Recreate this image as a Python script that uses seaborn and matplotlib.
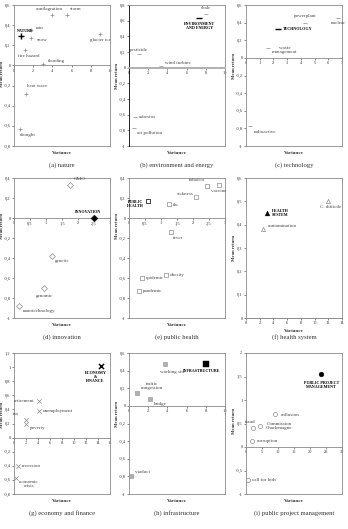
import matplotlib
matplotlib.use('Agg')
import matplotlib.pyplot as plt
import seaborn as sns
import pandas as pd
from matplotlib.ticker import MultipleLocator, FuncFormatter

sns.set_style('white')
plt.rcParams['font.family'] = ['Liberation Serif', 'DejaVu Serif']

# ---- data (first entry = the category itself) ----
nature_terms = ['NATURE', 'conflagration', 'storm', 'glacier ice', 'rain', 'snow',
                'fire hazard', 'flooding', 'heat wave', 'drought']
nature_var = [0.7, 4.0, 5.5, 9.0, 1.8, 1.8, 1.1, 3.0, 1.2, 0.6]
nature_ret = [0.29, 0.5, 0.5, 0.31, 0.35, 0.27, 0.15, 0.01, -0.28, -0.63]

env_terms = ['ENVIRONMENT\nAND ENERGY', 'shale', 'pesticide', 'wind turbine', 'asbestos', 'air pollution']
env_var = [7.3, 8.0, 1.0, 3.3, 0.6, 0.5]
env_ret = [0.63, 0.68, 0.17, 0.02, -0.63, -0.77]

tech_terms = ['TECHNOLOGY', 'powerplant', 'nuclear', 'waste\nmanagement', 'radioactive']
tech_var = [2.3, 4.3, 6.7, 1.6, 0.3]
tech_ret = [0.33, 0.4, 0.45, 0.11, -0.77]

innov_terms = ['INNOVATION', 'GMO', 'genetic', 'genomic', 'nanotechnology']
innov_var = [2.5, 1.75, 1.2, 0.95, 0.15]
innov_ret = [0.0, 0.33, -0.38, -0.7, -0.88]

ph_terms = ['PUBLIC\nHEALTH', 'flu', 'tobacco', 'sickness', 'vaccine', 'fever',
            'epidemic', 'obesity', 'pandemic']
ph_var = [0.6, 1.25, 2.45, 2.1, 2.8, 1.3, 0.4, 1.15, 0.3]
ph_ret = [0.17, 0.14, 0.32, 0.21, 0.33, -0.14, -0.6, -0.57, -0.73]

hs_terms = ['HEALTH\nSYSTEM', 'C. difficile', 'contamination']
hs_var = [3.0, 12.0, 2.5]
hs_ret = [0.45, 0.5, 0.38]

eco_terms = ['ECONOMY\n&\nFINANCE', 'retirement', 'unemployment', 'tax', 'poverty',
             'recession', 'economic\ncrisis']
eco_var = [14.5, 4.2, 4.2, 2.0, 2.0, 0.7, 0.4]
eco_ret = [1.02, 0.52, 0.38, 0.25, 0.2, -0.4, -0.58]

infra_terms = ['INFRASTRUCTURE', 'working site', 'traffic\ncongestion', 'bridge', 'viaduct']
infra_var = [8.0, 3.7, 0.8, 2.2, 0.2]
infra_ret = [0.48, 0.47, 0.15, 0.08, -0.8]

ppm_terms = ['PUBLIC PROJECT\nMANAGEMENT', 'collusion', 'fraud', 'Commission\nCharlemagne',
             'corruption', 'call for bids']
ppm_var = [23.5, 9.0, 2.2, 4.5, 2.0, 0.5]
ppm_ret = [1.55, 0.7, 0.4, 0.44, 0.13, -0.7]

captions = ['(a) nature', '(b) environment and energy', '(c) technology',
            '(d) innovation', '(e) public health', '(f) health system',
            '(g) economy and finance', '(h) infrastructure', '(i) public project management']

# label offsets (points) and alignment, per panel
lab_a = [(-3, 2, 'left', 'bottom'), (-2, 3, 'center', 'bottom'), (2, 3, 'left', 'bottom'),
         (0, -3, 'center', 'top'), (3, 0, 'left', 'bottom'), (4, -1, 'left', 'center'),
         (3, -3, 'center', 'top'), (4, 1, 'left', 'bottom'), (1, 4, 'left', 'bottom'),
         (0, -3, 'left', 'top')]
lab_b = [(0, -3, 'center', 'top'), (0, 3, 'center', 'bottom'), (-6, 2, 'left', 'bottom'),
         (3, 1, 'left', 'bottom'), (3, 0, 'left', 'center'), (2, -2, 'left', 'top')]
lab_c = [(4, 0, 'left', 'center'), (0, 3, 'center', 'bottom'), (0, -2, 'center', 'top'),
         (12, -1, 'center', 'center'), (3, -3, 'left', 'top')]
lab_d = [(-4, 3, 'center', 'bottom'), (3, 3, 'left', 'bottom'), (2, -2, 'left', 'top'),
         (0, -4, 'center', 'top'), (3, -2, 'left', 'top')]
lab_e = [(-3, -2, 'right', 'center'), (3, -1, 'left', 'center'), (-2, 3, 'right', 'bottom'),
         (-2, 1, 'right', 'bottom'), (0, -3, 'center', 'top'), (2, -3, 'left', 'top'),
         (3, 0, 'left', 'center'), (3, 0, 'left', 'center'), (3, 0, 'left', 'center')]
lab_f = [(4, 0, 'left', 'center'), (2, -3, 'center', 'top'), (3, 1, 'left', 'bottom')]
lab_g = [(-4, -4, 'center', 'top'), (-3, 0, 'right', 'center'), (3, 0, 'left', 'center'),
         (-5, 3, 'right', 'bottom'), (3, -2, 'left', 'top'), (3, 0, 'left', 'center'),
         (2, -1, 'left', 'top')]
lab_h = [(-3, -4, 'center', 'top'), (-3, -4, 'left', 'top'), (3, 2, 'left', 'bottom'),
         (3, -2, 'left', 'top'), (3, 2, 'left', 'bottom')]
lab_i = [(0, -5, 'center', 'top'), (4, -1, 'left', 'center'), (-2, 3, 'center', 'bottom'),
         (4, 0, 'left', 'center'), (3, 0, 'left', 'center'), (3, 0, 'left', 'center')]

panels = [
    dict(t=nature_terms, x=nature_var, y=nature_ret, lab=lab_a, m='+', open=False,
         xlim=(0, 10), xs=2, ylim=(-0.8, 0.6), ys=0.2, yl=0.42),
    dict(t=env_terms, x=env_var, y=env_ret, lab=lab_b, m='_', open=False,
         xlim=(0, 10), xs=2, ylim=(-1, 0.8), ys=0.2, yl=0.5),
    dict(t=tech_terms, x=tech_var, y=tech_ret, lab=lab_c, m='_', open=False,
         xlim=(0, 7), xs=1, ylim=(-1, 0.6), ys=0.2, yl=0.56),
    dict(t=innov_terms, x=innov_var, y=innov_ret, lab=lab_d, m='D', open=True,
         xlim=(0, 3), xs=0.5, ylim=(-1, 0.4), ys=0.2, yl=0.56),
    dict(t=ph_terms, x=ph_var, y=ph_ret, lab=lab_e, m='s', open=True,
         xlim=(0, 3), xs=0.5, ylim=(-1, 0.4), ys=0.2, yl=0.56),
    dict(t=hs_terms, x=hs_var, y=hs_ret, lab=lab_f, m='^', open=True,
         xlim=(0, 14), xs=2, ylim=(0, 0.6), ys=0.1, yl=0.5),
    dict(t=eco_terms, x=eco_var, y=eco_ret, lab=lab_g, m='x', open=False,
         xlim=(0, 16), xs=2, ylim=(-0.8, 1.2), ys=0.2, yl=0.56),
    dict(t=infra_terms, x=infra_var, y=infra_ret, lab=lab_h, m='s', open=False,
         xlim=(0, 10), xs=2, ylim=(-1, 0.6), ys=0.2, yl=0.56),
    dict(t=ppm_terms, x=ppm_var, y=ppm_ret, lab=lab_i, m='o', open=True,
         xlim=(0, 30), xs=5, ylim=(-1, 2), ys=0.5, yl=0.52),
]

fig = plt.figure(figsize=(3.48, 5.29), dpi=100)
W, H = 348, 529
col_left = [14, 129, 246]
row_top = [5, 178, 353]
row_bot = [146, 318, 494]
fmt = FuncFormatter(lambda v, p: ('%g' % round(v, 2)).replace('.', ','))
frame = '#8a8a8a'

for k, p in enumerate(panels):
    r, c = divmod(k, 3)
    ax = fig.add_axes([col_left[c] / W, 1 - row_bot[r] / H, 96 / W, (row_bot[r] - row_top[r]) / H])
    df = pd.DataFrame({'var': p['x'], 'ret': p['y'], 'term': p['t']})
    main, rest = df.iloc[:1], df.iloc[1:]
    if p['open']:
        sns.scatterplot(data=rest, x='var', y='ret', marker=p['m'], s=9, facecolor='white',
                        edgecolor='#8c8c8c', linewidth=0.5, ax=ax, zorder=3)
        if k == 4:
            sns.scatterplot(data=main, x='var', y='ret', marker=p['m'], s=11, facecolor='white',
                            edgecolor='#222222', linewidth=0.6, ax=ax, zorder=3)
        else:
            sns.scatterplot(data=main, x='var', y='ret', marker=p['m'], s=12, color='black',
                            edgecolor='black', ax=ax, zorder=3)
    elif p['m'] == 's':
        sns.scatterplot(data=rest, x='var', y='ret', marker='s', s=9, color='#b0b0b0',
                        edgecolor='#909090', linewidth=0.4, ax=ax, zorder=3)
        sns.scatterplot(data=main, x='var', y='ret', marker='s', s=14, color='black',
                        edgecolor='black', ax=ax, zorder=3)
    else:
        sns.scatterplot(data=rest, x='var', y='ret', marker=p['m'], s=10, color='#8c8c8c',
                        linewidth=0.5, ax=ax, zorder=3)
        sns.scatterplot(data=main, x='var', y='ret', marker=p['m'], s=14, color='black',
                        linewidth=1.0, ax=ax, zorder=3)

    for i, row in df.iterrows():
        dx, dy, ha, va = p['lab'][i]
        ax.annotate(row['term'], (row['var'], row['ret']), xytext=(dx, dy),
                    textcoords='offset points', ha=ha, va=va, multialignment='center',
                    fontsize=3.6 if i else 3.0, fontweight='bold' if i == 0 else 'normal',
                    color='black' if i == 0 else '#444444', linespacing=1.0)

    ax.set_xlim(p['xlim'])
    ax.set_ylim(p['ylim'])
    ax.xaxis.set_major_locator(MultipleLocator(p['xs']))
    ax.yaxis.set_major_locator(MultipleLocator(p['ys']))
    ax.xaxis.set_major_formatter(fmt)
    ax.yaxis.set_major_formatter(fmt)
    ax.tick_params(labelsize=3.2, length=1.5, width=0.4, pad=1, colors='#333333')
    ax.tick_params(axis='both', which='both', bottom=True, left=True)
    ax.spines['bottom'].set_position(('data', 0))
    for s in ax.spines.values():
        s.set_color(frame)
        s.set_linewidth(0.6)
    if k == 1:
        ax.spines['bottom'].set_linewidth(1.4)
        ax.spines['bottom'].set_color('#b0b0b0')
        ax.spines['left'].set_color('black')
    ax.plot([0, 1], [0, 0], transform=ax.transAxes, color=frame, lw=0.6, clip_on=False)

    ax.set_xlabel('Variance', fontsize=3.8, fontweight='bold', color='#333333')
    ax.xaxis.set_label_coords(0.5, -0.075 if k == 5 else -0.035)
    ax.set_ylabel('Mean return', fontsize=3.4, fontweight='bold', color='#333333')
    y0 = (0 - p['ylim'][0]) / (p['ylim'][1] - p['ylim'][0])
    ax.yaxis.set_label_coords(-0.13, p['yl'] if k in (5, 6, 8) else y0 - 0.06)
    ax.yaxis.label.set_va('center')

    fig.text((col_left[c] + 48) / W, 1 - (row_bot[r] + 19) / H, captions[k],
             ha='center', va='center', fontsize=4.8, color='#333333')

fig.savefig('out.png', dpi=100)
